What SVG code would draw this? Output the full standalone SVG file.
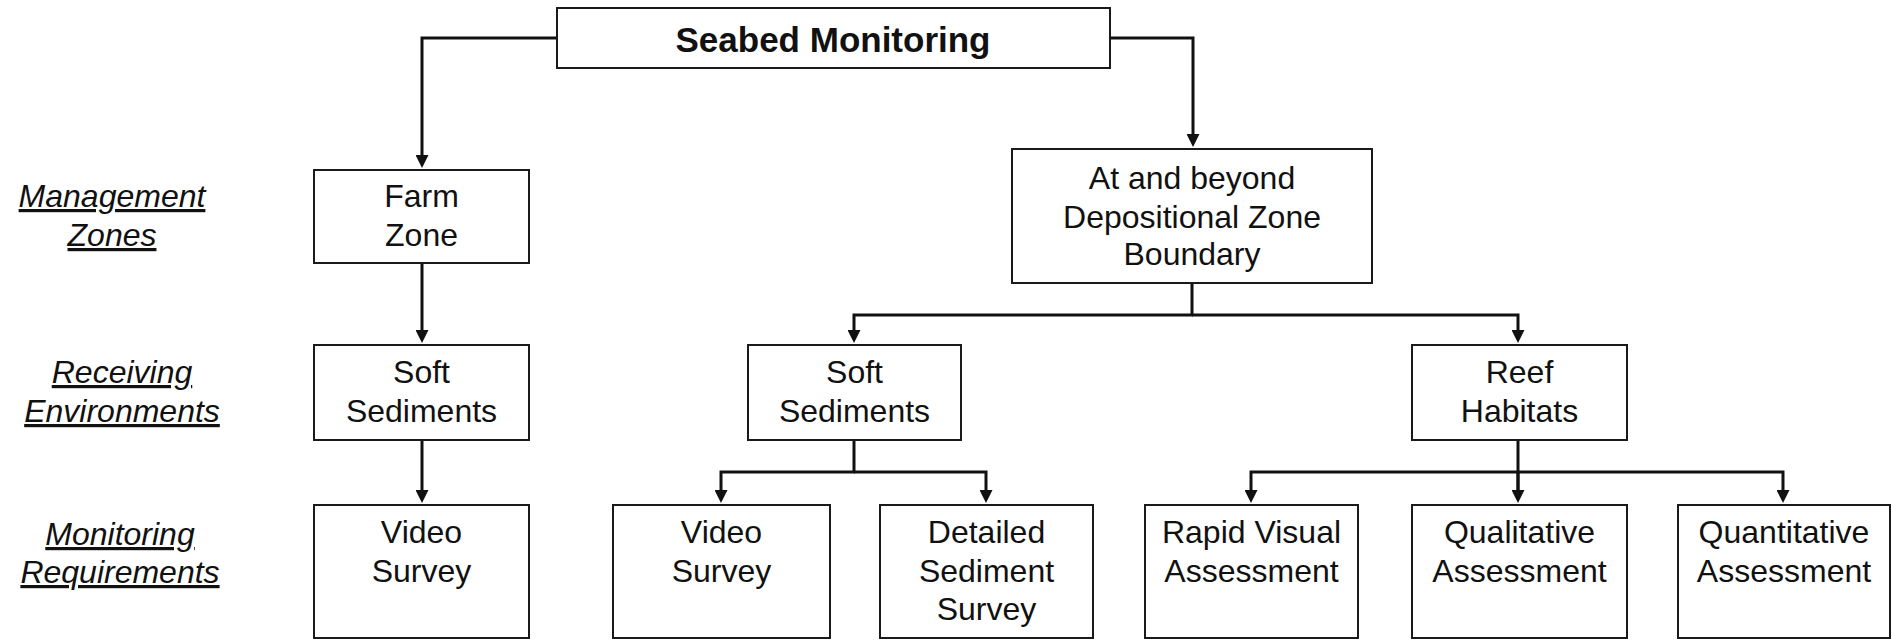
<svg xmlns="http://www.w3.org/2000/svg" width="1892" height="640" viewBox="0 0 1892 640">
  <style>
    .box { fill: #ffffff; stroke: #1a1a1a; stroke-width: 2; }
    .t { font-family: "Liberation Sans", Arial, sans-serif; font-size: 32px; fill: #111111; text-anchor: middle; }
    .title { font-family: "Liberation Sans", Arial, sans-serif; font-size: 35px; font-weight: bold; fill: #111111; text-anchor: middle; }
    .lbl { font-family: "Liberation Sans", Arial, sans-serif; font-size: 32px; font-style: italic; fill: #111111; text-anchor: middle; text-decoration: underline; }
    .conn { fill: none; stroke: #111111; stroke-width: 3; marker-end: url(#arrow); }
    .plain { fill: none; stroke: #111111; stroke-width: 3; }
  </style>
  <defs>
    <marker id="arrow" viewBox="0 0 13 13" refX="0" refY="6.5" markerWidth="13" markerHeight="13" markerUnits="userSpaceOnUse" orient="auto">
      <path d="M0,0 L13,6.5 L0,13 z" fill="#111111"/>
    </marker>
  </defs>
  <rect width="1892" height="640" fill="#ffffff"/>

  <g id="labels">
    <text class="lbl" x="112" y="207">Management</text>
    <text class="lbl" x="112" y="246">Zones</text>
    <text class="lbl" x="122" y="383">Receiving</text>
    <text class="lbl" x="122" y="422">Environments</text>
    <text class="lbl" x="120" y="545">Monitoring</text>
    <text class="lbl" x="120" y="583">Requirements</text>
  </g>

  <g id="connectors">
    <path class="conn" d="M557,38 H422 V155"/>
    <path class="conn" d="M1110,38 H1193 V134"/>
    <path class="conn" d="M422,263 V330"/>
    <path class="conn" d="M422,440 V490"/>
    <path class="plain" d="M1192,283 V315"/>
    <path class="conn" d="M1193,315 H854 V330"/>
    <path class="conn" d="M1192,315 H1518 V330"/>
    <path class="plain" d="M854,440 V472"/>
    <path class="conn" d="M855,472 H721 V490"/>
    <path class="conn" d="M854,472 H986 V490"/>
    <path class="plain" d="M1518,440 V490"/>
    <path class="conn" d="M1518,472 V490"/>
    <path class="conn" d="M1519,472 H1251 V490"/>
    <path class="conn" d="M1517,472 H1783 V490"/>
  </g>

  <g id="seabed-monitoring">
    <rect class="box" x="557" y="8" width="553" height="60"/>
    <text class="title" x="833" y="52">Seabed Monitoring</text>
  </g>

  <g id="farm-zone">
    <rect class="box" x="314" y="170" width="215" height="93"/>
    <text class="t" x="421.5" y="207">Farm</text>
    <text class="t" x="421.5" y="246">Zone</text>
  </g>

  <g id="depositional-zone">
    <rect class="box" x="1012" y="149" width="360" height="134"/>
    <text class="t" x="1192" y="189">At and beyond</text>
    <text class="t" x="1192" y="228">Depositional Zone</text>
    <text class="t" x="1192" y="265">Boundary</text>
  </g>

  <g id="soft-sediments-farm">
    <rect class="box" x="314" y="345" width="215" height="95"/>
    <text class="t" x="421.5" y="383">Soft</text>
    <text class="t" x="421.5" y="422">Sediments</text>
  </g>

  <g id="soft-sediments-depo">
    <rect class="box" x="748" y="345" width="213" height="95"/>
    <text class="t" x="854.5" y="383">Soft</text>
    <text class="t" x="854.5" y="422">Sediments</text>
  </g>

  <g id="reef-habitats">
    <rect class="box" x="1412" y="345" width="215" height="95"/>
    <text class="t" x="1519.5" y="383">Reef</text>
    <text class="t" x="1519.5" y="422">Habitats</text>
  </g>

  <g id="video-survey-farm">
    <rect class="box" x="314" y="505" width="215" height="133"/>
    <text class="t" x="421.5" y="543">Video</text>
    <text class="t" x="421.5" y="582">Survey</text>
  </g>

  <g id="video-survey-depo">
    <rect class="box" x="613" y="505" width="217" height="133"/>
    <text class="t" x="721.5" y="543">Video</text>
    <text class="t" x="721.5" y="582">Survey</text>
  </g>

  <g id="detailed-sediment-survey">
    <rect class="box" x="880" y="505" width="213" height="133"/>
    <text class="t" x="986.5" y="543">Detailed</text>
    <text class="t" x="986.5" y="582">Sediment</text>
    <text class="t" x="986.5" y="620">Survey</text>
  </g>

  <g id="rapid-visual-assessment">
    <rect class="box" x="1145" y="505" width="213" height="133"/>
    <text class="t" x="1251.5" y="543">Rapid Visual</text>
    <text class="t" x="1251.5" y="582">Assessment</text>
  </g>

  <g id="qualitative-assessment">
    <rect class="box" x="1412" y="505" width="215" height="133"/>
    <text class="t" x="1519.5" y="543">Qualitative</text>
    <text class="t" x="1519.5" y="582">Assessment</text>
  </g>

  <g id="quantitative-assessment">
    <rect class="box" x="1678" y="505" width="212" height="133"/>
    <text class="t" x="1784" y="543">Quantitative</text>
    <text class="t" x="1784" y="582">Assessment</text>
  </g>
</svg>
